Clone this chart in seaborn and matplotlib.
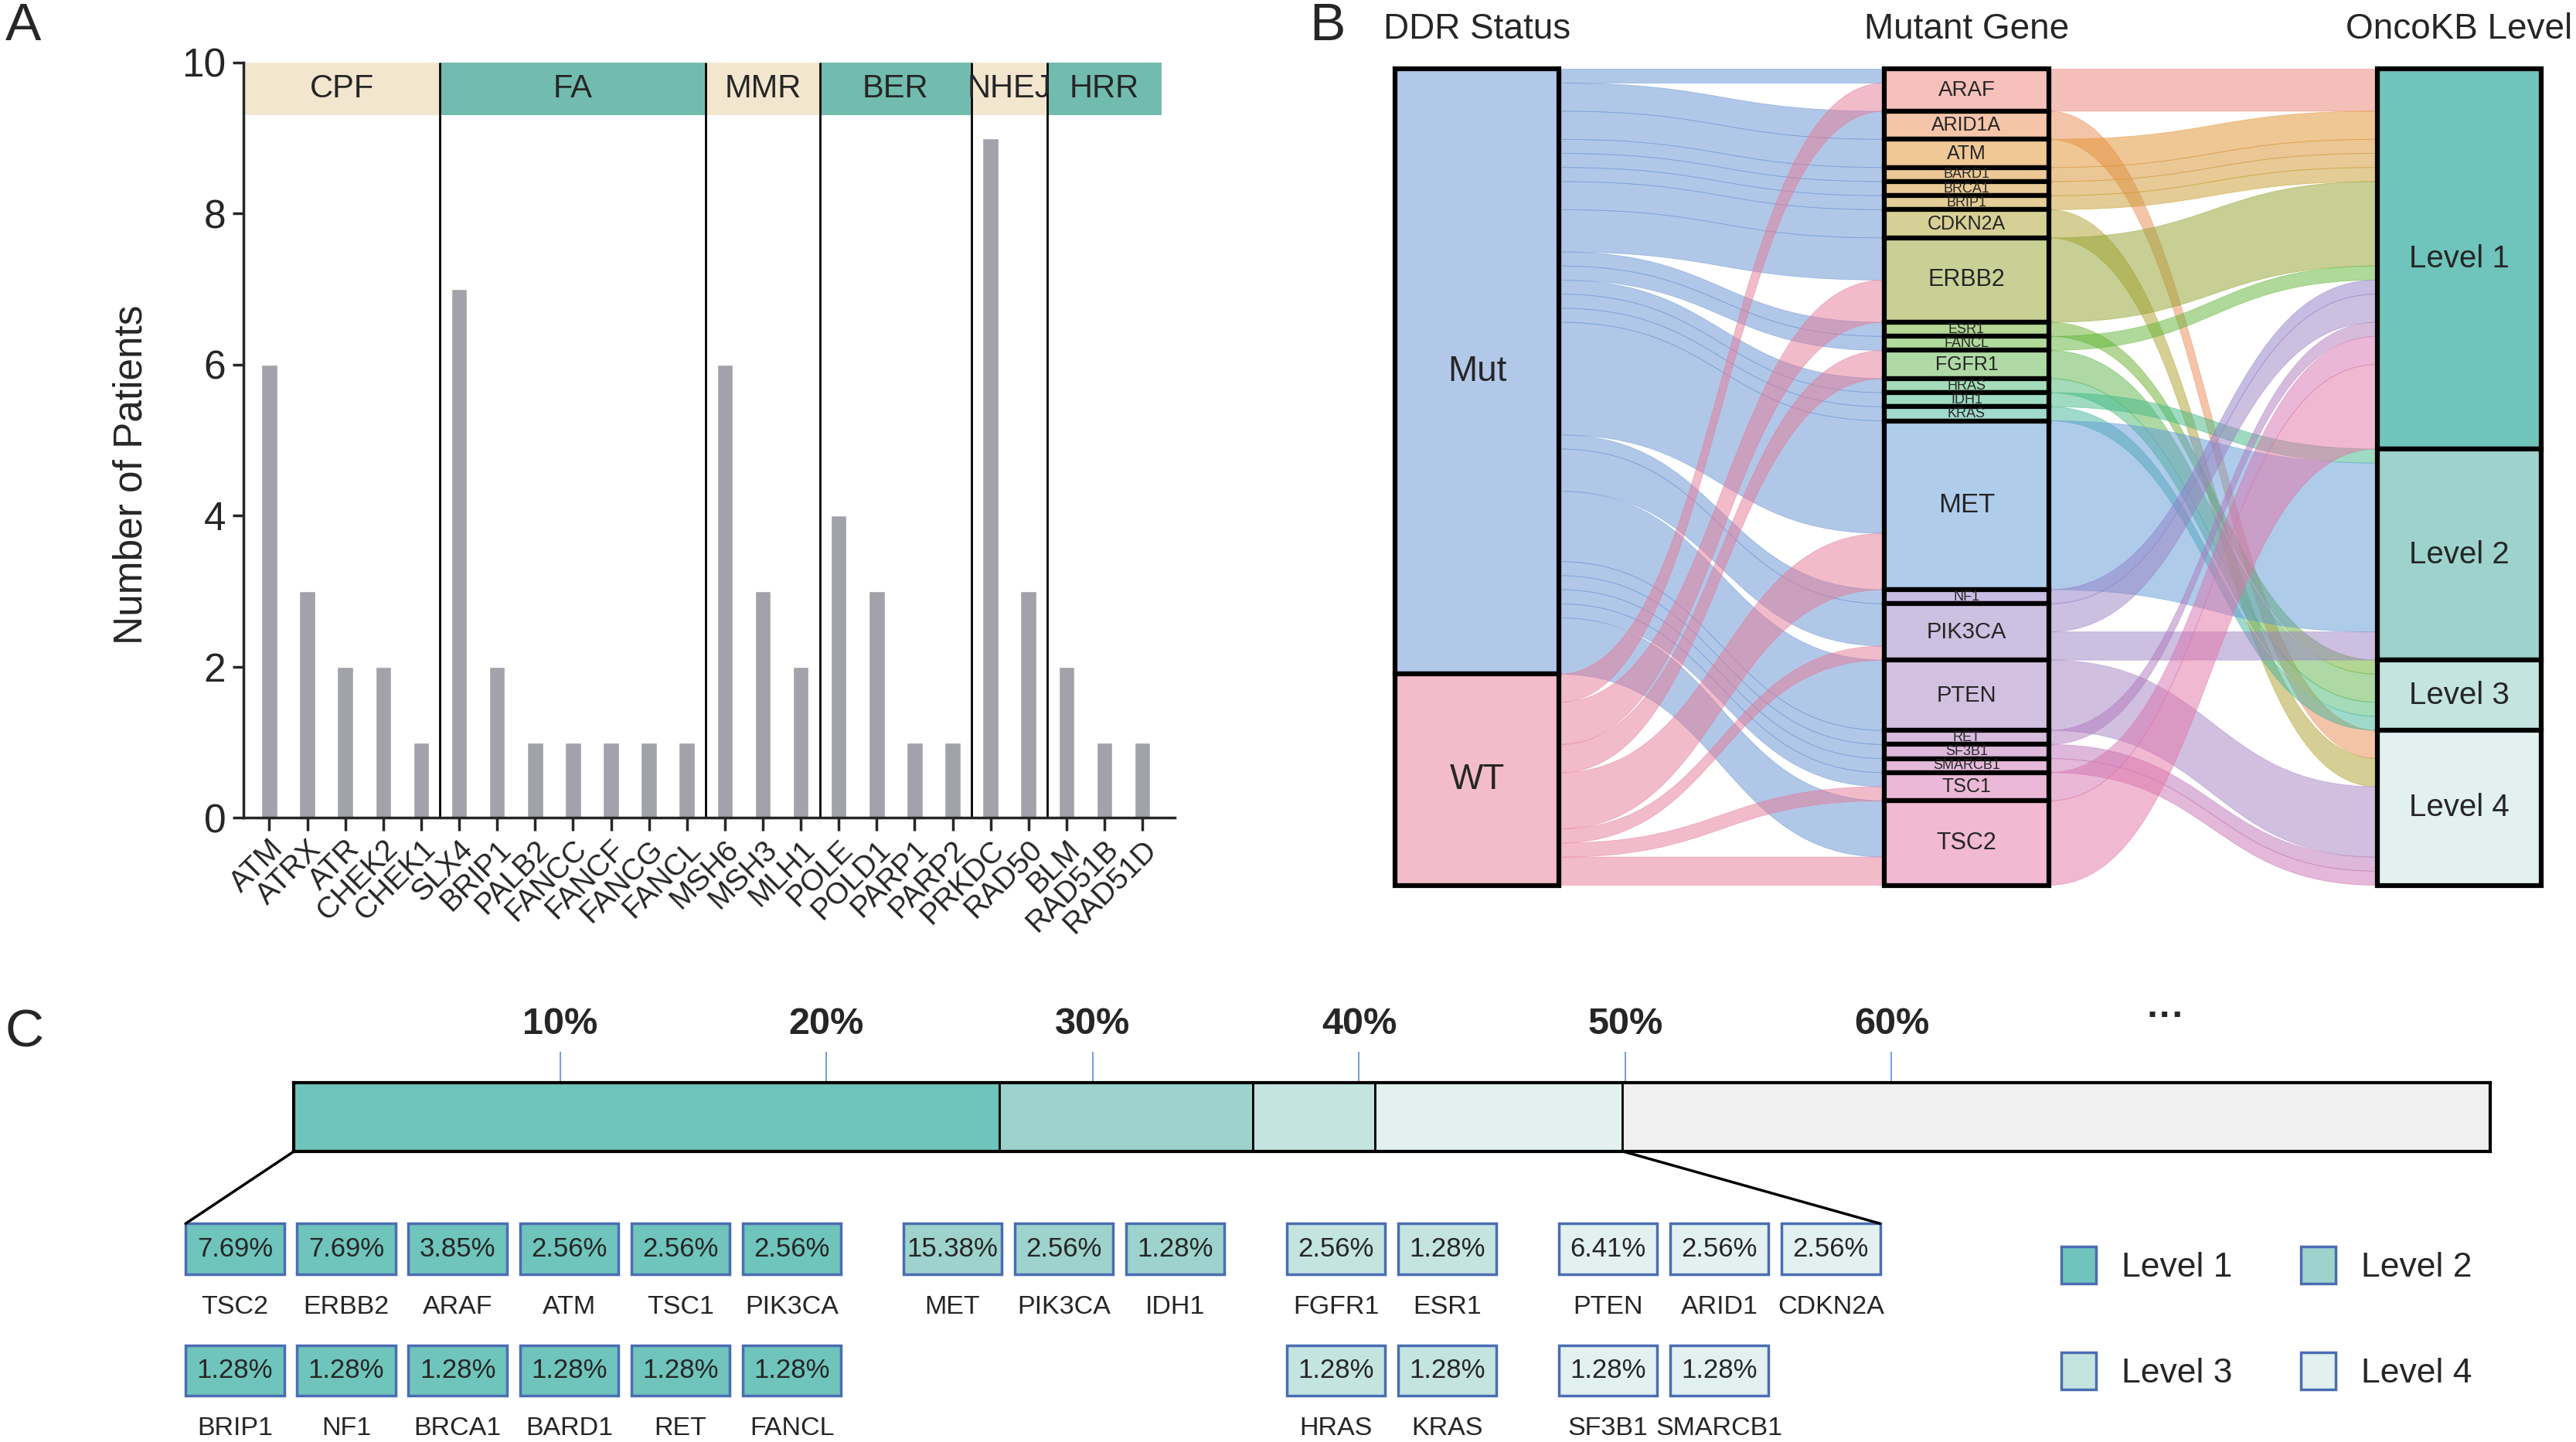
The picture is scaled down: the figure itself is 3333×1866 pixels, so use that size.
import matplotlib
matplotlib.use('Agg')
import matplotlib.pyplot as plt
import matplotlib.patches as mpatches
from matplotlib.path import Path
from matplotlib.patches import ConnectionPatch
import numpy as np
import pandas as pd
import seaborn as sns

# ---------------- data ----------------
# panel A: DDR gene mutations
ddr_genes = ['ATM', 'ATRX', 'ATR', 'CHEK2', 'CHEK1', 'SLX4', 'BRIP1', 'PALB2', 'FANCC', 'FANCF', 'FANCG',
             'FANCL', 'MSH6', 'MSH3', 'MLH1', 'POLE', 'POLD1', 'PARP1', 'PARP2', 'PRKDC', 'RAD50', 'BLM',
             'RAD51B', 'RAD51D']
ddr_patients = [6, 3, 2, 2, 1, 7, 2, 1, 1, 1, 1, 1, 6, 3, 2, 4, 3, 1, 1, 9, 3, 2, 1, 1]
pathways = ['CPF', 'FA', 'MMR', 'BER', 'NHEJ', 'HRR']
pathway_sizes = [5, 7, 3, 4, 2, 3]

# panel B: sankey DDR status -> mutant gene -> OncoKB level
status_names = ['Mut', 'WT']
mutant_genes = ['ARAF', 'ARID1A', 'ATM', 'BARD1', 'BRCA1', 'BRIP1', 'CDKN2A', 'ERBB2', 'ESR1', 'FANCL',
                'FGFR1', 'HRAS', 'IDH1', 'KRAS', 'MET', 'NF1', 'PIK3CA', 'PTEN', 'RET', 'SF3B1', 'SMARCB1',
                'TSC1', 'TSC2']
mut_counts = [1, 2, 2, 1, 1, 1, 2, 3, 1, 1, 0, 1, 1, 1, 8, 1, 3, 5, 1, 1, 1, 1, 4]
wt_counts = [2, 0, 0, 0, 0, 0, 0, 3, 0, 0, 2, 0, 0, 0, 4, 0, 1, 0, 0, 0, 0, 1, 2]
levels = ['Level 1', 'Level 2', 'Level 3', 'Level 4']
link_gene = ['ARAF', 'ARID1A', 'ATM', 'BARD1', 'BRCA1', 'BRIP1', 'CDKN2A', 'ERBB2', 'ESR1', 'FANCL', 'FGFR1',
             'HRAS', 'IDH1', 'KRAS', 'MET', 'NF1', 'PIK3CA', 'PIK3CA', 'PTEN', 'RET', 'SF3B1', 'SMARCB1',
             'TSC1', 'TSC2']
link_level = ['Level 1', 'Level 4', 'Level 1', 'Level 1', 'Level 1', 'Level 1', 'Level 4', 'Level 1',
              'Level 3', 'Level 1', 'Level 3', 'Level 3', 'Level 2', 'Level 3', 'Level 2', 'Level 1',
              'Level 1', 'Level 2', 'Level 4', 'Level 1', 'Level 4', 'Level 4', 'Level 1', 'Level 1']
link_count = [3, 2, 2, 1, 1, 1, 2, 6, 1, 1, 2, 1, 1, 1, 12, 1, 2, 2, 5, 1, 1, 1, 2, 6]

# panel C: share of patients by OncoKB level (as drawn on the bar scale)
level_share = [26.5, 9.5, 4.6, 9.3, 32.6]
pct_ticks = [10, 20, 30, 40, 50, 60]
box_genes_top = [['TSC2', 'ERBB2', 'ARAF', 'ATM', 'TSC1', 'PIK3CA'], ['MET', 'PIK3CA', 'IDH1'],
                 ['FGFR1', 'ESR1'], ['PTEN', 'ARID1', 'CDKN2A']]
box_pct_top = [['7.69%', '7.69%', '3.85%', '2.56%', '2.56%', '2.56%'], ['15.38%', '2.56%', '1.28%'],
               ['2.56%', '1.28%'], ['6.41%', '2.56%', '2.56%']]
box_genes_bottom = [['BRIP1', 'NF1', 'BRCA1', 'BARD1', 'RET', 'FANCL'], [], ['HRAS', 'KRAS'],
                    ['SF3B1', 'SMARCB1']]
box_pct_bottom = [['1.28%'] * 6, [], ['1.28%', '1.28%'], ['1.28%', '1.28%']]

# ---------------- style ----------------
sns.set_style('ticks')
plt.rcParams['font.family'] = ['Liberation Sans', 'DejaVu Sans']

level_colors = ['#6fc4bb', '#9dd3cc', '#c4e4e0', '#e2f1ef']
status_colors = ['#6491d2', '#e67896']
gene_colors = ['#eb8173', '#eb8b55', '#e1912d', '#d7912d', '#d1972d', '#c99b2d', '#afa12d', '#91a12d',
               '#69af2d', '#5fb537', '#5fb54b', '#4bb973', '#41b987', '#41b59b', '#5f9bd7', '#917dc9',
               '#9b81c3', '#a581c3', '#af79bd', '#bd73b9', '#c973b5', '#d773af', '#e573a5']
box_edge = '#4a6db3'

W, H = 1568, 878  # reference layout grid


def frame(x0, y0, x1, y1):
    return [x0 / W, 1 - y1 / H, (x1 - x0) / W, (y1 - y0) / H]


fig = plt.figure(figsize=(33.33, 18.66), dpi=100)

# ---------------- panel A ----------------
axA = fig.add_axes(frame(148, 38, 715, 498))
dfA = pd.DataFrame({'gene': ddr_genes, 'patients': ddr_patients})
sns.barplot(data=dfA, x='gene', y='patients', color='#a2a2aa', saturation=1, width=0.42, ax=axA)
axA.set_xlim(-0.69, 23.85)
axA.set_ylim(0, 10)
axA.set_yticks([0, 2, 4, 6, 8, 10])
sns.despine(ax=axA)
for sp in ['left', 'bottom']:
    axA.spines[sp].set_linewidth(2.5)
axA.tick_params(axis='y', labelsize=37, length=10, width=2.5, pad=6)
axA.tick_params(axis='x', labelsize=28, length=12, width=2.5, pad=4)
plt.setp(axA.get_xticklabels(), rotation=45, ha='right', rotation_mode='anchor')
axA.set_xlabel('')
axA.set_ylabel('Number of Patients', fontsize=37)
axA.yaxis.set_label_coords(-0.1, 0.454)

bounds = np.cumsum(pathway_sizes) - 0.5
starts = [axA.get_xlim()[0]] + list(bounds[:-1])
for i, (name, s, e) in enumerate(zip(pathways, starts, bounds)):
    col = '#f3e6cf' if i % 2 == 0 else '#72bcaf'
    axA.add_patch(mpatches.Rectangle((s, 9.3), e - s, 0.7, facecolor=col, edgecolor='none', zorder=0))
    axA.text((s + e) / 2, 9.65, name, ha='center', va='center', fontsize=30)
axA.vlines(bounds[:-1], 0, 10, color='black', lw=2)

# ---------------- panel B (sankey) ----------------
axB = fig.add_axes(frame(849, 42, 1547, 539))
axB.set_xlim(0, 6.98)
axB.set_ylim(58, 0)
axB.axis('off')
col_x = [0, 2.98, 5.98]
node_w = 1.0


def ribbon(ax, x0, y0a, y0b, x1, y1a, y1b, color):
    xm = (x0 + x1) / 2
    verts = [(x0, y0a), (xm, y0a), (xm, y1a), (x1, y1a), (x1, y1b), (xm, y1b), (xm, y0b), (x0, y0b),
             (x0, y0a)]
    codes = [Path.MOVETO, Path.CURVE4, Path.CURVE4, Path.CURVE4, Path.LINETO, Path.CURVE4, Path.CURVE4,
             Path.CURVE4, Path.CLOSEPOLY]
    ax.add_patch(mpatches.PathPatch(Path(verts, codes), facecolor=color, edgecolor=color, lw=0.6,
                                    alpha=0.5, zorder=1))


status_tot = [sum(mut_counts), sum(wt_counts)]
status_top = np.concatenate([[0], np.cumsum(status_tot)[:-1]])
gene_tot = [m + w for m, w in zip(mut_counts, wt_counts)]
gene_top = np.concatenate([[0], np.cumsum(gene_tot)[:-1]])
level_tot = [sum(c for l, c in zip(link_level, link_count) if l == lv) for lv in levels]
level_top = np.concatenate([[0], np.cumsum(level_tot)[:-1]])

# links status -> gene
gene_in = list(gene_top)
for s, counts in enumerate([mut_counts, wt_counts]):
    cur = status_top[s]
    for g, c in enumerate(counts):
        if c == 0:
            continue
        ribbon(axB, col_x[0] + node_w, cur, cur + c, col_x[1], gene_in[g], gene_in[g] + c, status_colors[s])
        cur += c
        gene_in[g] += c

# links gene -> level
gene_out = list(gene_top)
level_in = list(level_top)
for gname, lv, c in zip(link_gene, link_level, link_count):
    g = mutant_genes.index(gname)
    k = levels.index(lv)
    ribbon(axB, col_x[1] + node_w, gene_out[g], gene_out[g] + c, col_x[2], level_in[k], level_in[k] + c,
           gene_colors[g])
    gene_out[g] += c
    level_in[k] += c


def node(ax, x, top, h, face, label, size):
    ax.add_patch(mpatches.Rectangle((x, top), node_w, h, facecolor=face, edgecolor='black', lw=4.5,
                                    zorder=3, clip_on=False))
    ax.text(x + node_w / 2, top + h / 2, label, ha='center', va='center', fontsize=size, zorder=4)


light = lambda c: tuple(0.5 + 0.5 * np.array(matplotlib.colors.to_rgb(c)))
for s, name in enumerate(status_names):
    node(axB, col_x[0], status_top[s], status_tot[s], light(status_colors[s]), name, 33)
gene_font = {1: 13, 2: 18, 3: 20, 4: 21, 5: 21, 6: 22, 12: 25}
for g, name in enumerate(mutant_genes):
    node(axB, col_x[1], gene_top[g], gene_tot[g], light(gene_colors[g]), name, gene_font[gene_tot[g]])
for k, name in enumerate(levels):
    node(axB, col_x[2], level_top[k], level_tot[k], level_colors[k], name, 29)

for x, title in zip(col_x, ['DDR Status', 'Mutant Gene', 'OncoKB Level']):
    axB.text(x + node_w / 2, -2.8, title, ha='center', va='center', fontsize=33, clip_on=False)

# ---------------- panel C ----------------
axC = fig.add_axes(frame(179, 659, 1516, 701))
lefts = np.concatenate([[0], np.cumsum(level_share)[:-1]])
axC.barh(0, level_share, left=lefts, height=1, color=level_colors + ['#f0f0f0'], edgecolor='black', lw=2)
axC.set_xlim(0, sum(level_share))
axC.set_ylim(-0.5, 0.5)
axC.set_yticks([])
axC.set_xticks(pct_ticks)
axC.set_xticklabels([f'{t}%' for t in pct_ticks], fontweight='bold')
axC.xaxis.tick_top()
axC.tick_params(axis='x', direction='out', length=29, width=1.2, color='#5b8bd6', labelsize=35, pad=9)
for sp in axC.spines.values():
    sp.set_linewidth(3)
    sp.set_color('black')
axC.text(70.3, 1.95, '···', transform=axC.get_xaxis_transform(), ha='center', va='center', fontsize=36,
         fontweight='bold')

# boxes with per-gene percentages
axBox = fig.add_axes(frame(113, 745, 1145, 880))
slot, gap, box_w = 67.8, 30.0, 60.0
row_top = [0, 74]
box_h = 31
axBox.set_xlim(0, 1032)
axBox.set_ylim(135, 0)
axBox.axis('off')
start = 0
for k in range(4):
    for r, (gl, pl) in enumerate([(box_genes_top[k], box_pct_top[k]), (box_genes_bottom[k], box_pct_bottom[k])]):
        for i, (gname, pct) in enumerate(zip(gl, pl)):
            x = (start + i) * slot + k * gap
            y = row_top[r]
            axBox.add_patch(mpatches.Rectangle((x, y), box_w, box_h, facecolor=level_colors[k],
                                               edgecolor=box_edge, lw=2.5, clip_on=False))
            axBox.text(x + box_w / 2, y + box_h / 2, pct, ha='center', va='center', fontsize=25)
            axBox.text(x + box_w / 2, y + box_h + 20, gname, ha='center', va='center', fontsize=24.5,
                       clip_on=False)
    start += len(box_genes_top[k])

right_end = (start - 1) * slot + 3 * gap + box_w
for xa, xb in [(0, 0), (sum(level_share[:4]), right_end)]:
    fig.add_artist(ConnectionPatch(xyA=(xa, -0.5), coordsA=axC.transData, xyB=(xb, 0), coordsB=axBox.transData,
                                   color='black', lw=2.5))

handles = [mpatches.Patch(facecolor=level_colors[k], edgecolor=box_edge, lw=2.5) for k in [0, 2, 1, 3]]
fig.legend(handles, [levels[k] for k in [0, 2, 1, 3]], ncol=2, loc='upper left',
           bbox_to_anchor=(1236 / W, 1 - 740 / H), frameon=False, fontsize=32, handlelength=1.0,
           handleheight=1.3, handletextpad=0.75, columnspacing=2.0, labelspacing=2.0)

# panel letters
for x, y, lab in [(3, 16, 'A'), (797, 16, 'B'), (3, 629, 'C')]:
    fig.text(x / W, 1 - y / H, lab, ha='left', va='center', fontsize=50)

fig.savefig('out.png', dpi=100)
